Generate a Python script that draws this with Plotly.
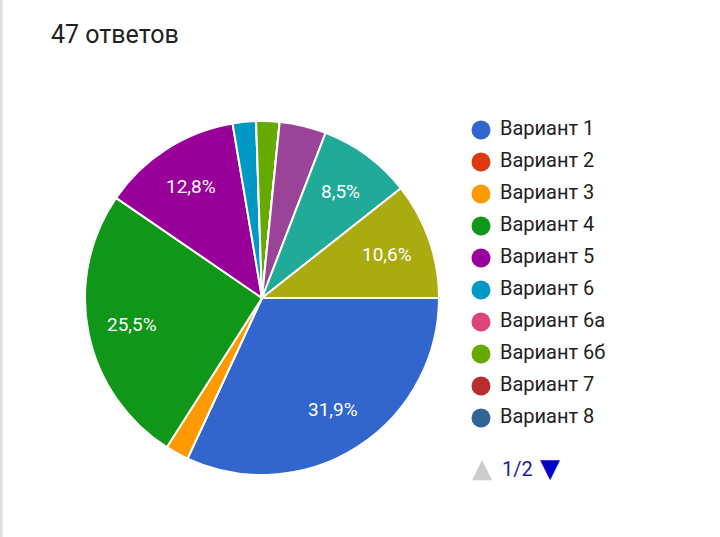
import math
import plotly.graph_objects as go

title_text = "47 ответов"
labels = ["Вариант 1", "Вариант 2", "Вариант 3", "Вариант 4", "Вариант 5", "Вариант 6",
          "Вариант 6а", "Вариант 6б", "Вариант 7", "Вариант 8", "Вариант 9", "Вариант 10", "Вариант 11"]
values = [15, 0, 1, 12, 6, 1, 0, 1, 0, 0, 2, 4, 5]
colors = ["#3366cc", "#dc3912", "#ff9900", "#109618", "#990099", "#0099c6", "#dd4477",
          "#66aa00", "#b82e2e", "#316395", "#994499", "#22aa99", "#aaaa11"]
slice_text = ["31,9%", "", "", "25,5%", "12,8%", "", "", "", "", "", "", "8,5%", "10,6%"]
legend_page_size = 10
page_label = "1/2"

W, H = 720, 537
CX, CY, R = 262, 298, 177
pie_domain = dict(x=[(CX - R) / W, (CX + R) / W], y=[1 - (CY + R) / H, 1 - (CY - R) / H])

fig = go.Figure()
fig.add_trace(go.Pie(
    labels=labels, values=values, sort=False, direction="clockwise", rotation=90,
    marker=dict(colors=colors, line=dict(color="white", width=2)),
    textinfo="none",
    domain=pie_domain,
    showlegend=False, hoverinfo="label+percent",
))

# slice labels at the middle angle of each slice, 0.75 of the radius
total = sum(values)
annotations = []
cum = 0
for v, t in zip(values, slice_text):
    ang = math.radians((cum + v / 2) / total * 360)  # clockwise from 3 o'clock
    cum += v
    if not t:
        continue
    px = CX + 0.75 * R * math.cos(ang)
    py = CY + 0.75 * R * math.sin(ang)
    annotations.append(dict(text=t, x=px / W, y=1 - py / H, xref="paper", yref="paper",
                            xanchor="center", yanchor="middle", showarrow=False,
                            font=dict(family="Roboto", size=19, color="white")))

leg_labels = labels[:legend_page_size]
leg_colors = colors[:legend_page_size]
idx = list(range(len(leg_labels)))
fig.add_trace(go.Scatter(
    x=[481] * len(idx), y=idx, mode="markers",
    marker=dict(size=19, color=leg_colors, line=dict(width=0)),
    showlegend=False, hoverinfo="skip", xaxis="x", yaxis="y",
))
fig.add_trace(go.Scatter(
    x=[500] * len(idx), y=idx, mode="text", text=leg_labels,
    textposition="middle right",
    textfont=dict(family="Roboto", size=20, color="#222222"),
    showlegend=False, hoverinfo="skip", xaxis="x", yaxis="y",
))

annotations += [
    dict(text=title_text, x=49 / W, y=1 - 35 / H, xref="paper", yref="paper",
         xanchor="left", yanchor="middle", showarrow=False,
         font=dict(family="Roboto", size=25, color="#212121")),
    dict(text="▲", x=482 / W, y=1 - 468 / H, xref="paper", yref="paper",
         xanchor="center", yanchor="middle", showarrow=False,
         font=dict(family="DejaVu Sans", size=26, color="#cccccc")),
    dict(text=page_label, x=500 / W, y=1 - 469 / H, xref="paper", yref="paper",
         xanchor="left", yanchor="middle", showarrow=False,
         font=dict(family="Roboto", size=20, color="#1a1aa6")),
    dict(text="▼", x=550 / W, y=1 - 468 / H, xref="paper", yref="paper",
         xanchor="center", yanchor="middle", showarrow=False,
         font=dict(family="DejaVu Sans", size=26, color="#0000cc")),
]

# y index -> pixel: p = 130 + 32*i
fig.update_layout(
    width=W, height=H, margin=dict(l=0, r=0, t=0, b=0),
    paper_bgcolor="white", plot_bgcolor="rgba(0,0,0,0)",
    xaxis=dict(range=[0, W], visible=False, fixedrange=True, domain=[0, 1]),
    yaxis=dict(range=[(H - 130) / 32, -130 / 32], visible=False, fixedrange=True, domain=[0, 1]),
    font=dict(family="Roboto"),
    annotations=annotations,
    shapes=[dict(type="line", xref="paper", yref="paper", x0=1 / W, x1=1 / W, y0=0, y1=1,
                 line=dict(color="#dddddd", width=3))],
)

fig.write_html("out.html")
